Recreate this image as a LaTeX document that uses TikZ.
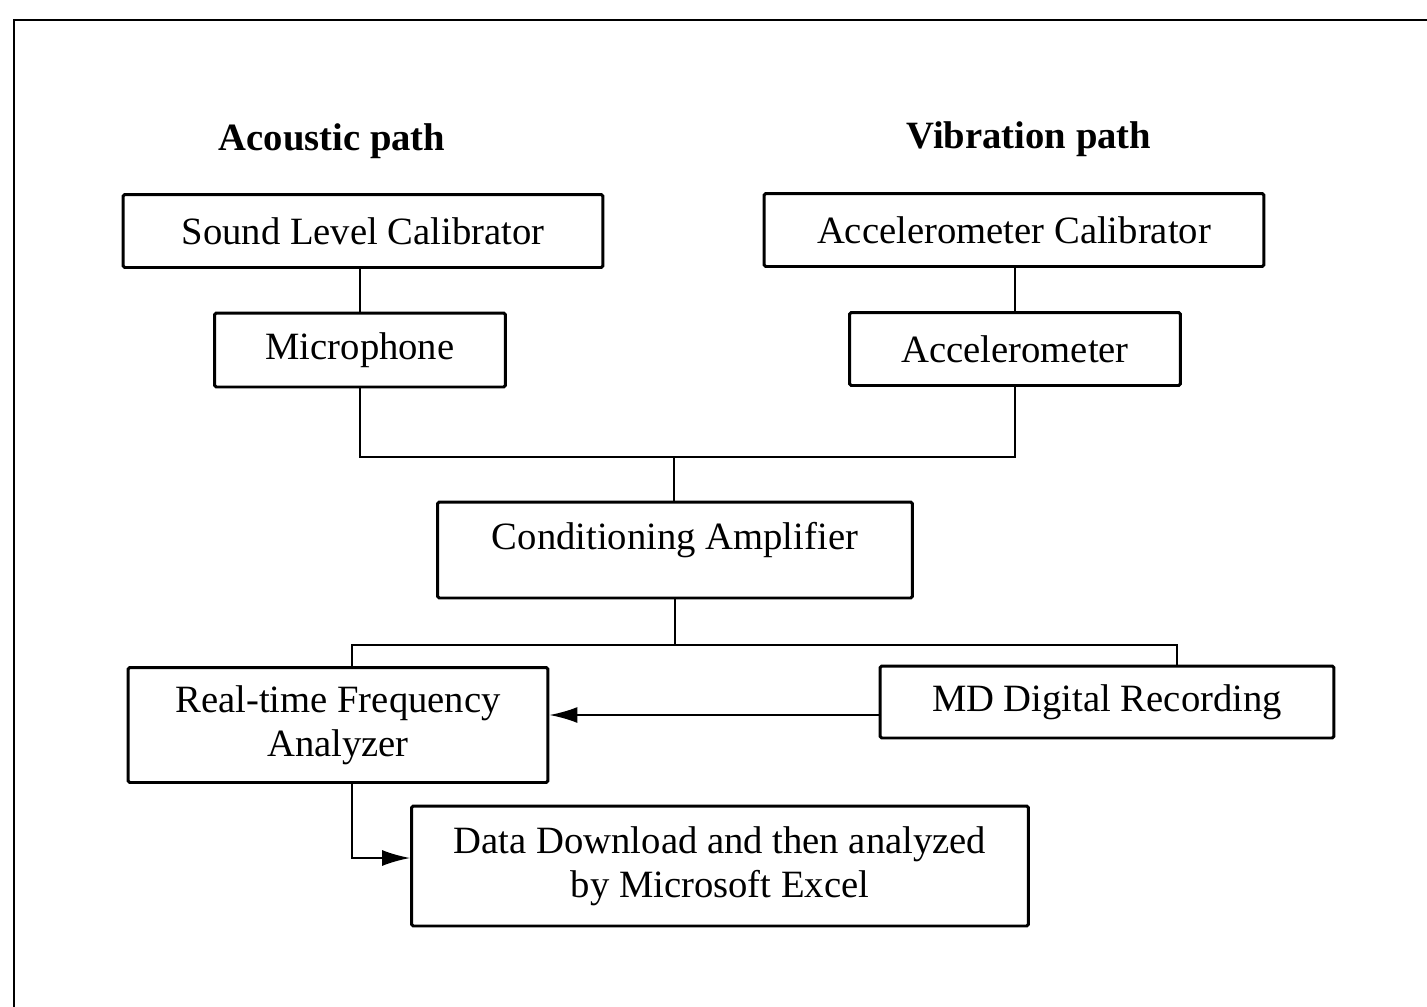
\documentclass[tikz,border=0pt]{standalone}
\usepackage{fontspec}
\setmainfont{Liberation Serif}
\usetikzlibrary{arrows.meta,calc}
\tikzset{box/.style={draw, line width=1.7pt, rounded corners=1pt, align=center, inner sep=2pt},
	title/.style={font=\fontsize{22}{25}\selectfont\bfseries},
	link/.style={line width=1.1pt},
	arr/.style={link, -{Latex[length=5.6mm,width=3.2mm]}}}

\begin{document}
\begin{tikzpicture}[x=0.02cm, y=-0.02cm, font=\fontsize{22}{25}\selectfont]
		\useasboundingbox (0,0) rectangle (1427,1007);
		\draw[line width=1.6pt] (14,1007) -- (14,20) -- (1427,20);
		
		\node[title] (acoustic) at (332,141) {Acoustic path};
		\node[title] (vibration) at (1029,139) {Vibration path};
		
		\node[box, minimum width=9.6cm, minimum height=1.46cm] (slc) at (363,231) {Sound Level Calibrator};
		\node[box, minimum width=10cm, minimum height=1.46cm] (acal) at (1014,230) {Accelerometer Calibrator};
		\node[box, minimum width=5.82cm, minimum height=1.48cm] (mic) at (360,350) {Microphone};
		\node[box, minimum width=6.62cm, minimum height=1.46cm] (acc) at (1015,349) {Accelerometer};
		\node[box, minimum width=9.5cm, minimum height=1.92cm, text depth=0.57cm] (amp) at (675,550) {Conditioning Amplifier};
		\node[box, minimum width=8.4cm, minimum height=2.3cm] (rta) at (338,725) {Real-time Frequency\\Analyzer};
		\node[box, minimum width=9.08cm, minimum height=1.44cm] (md) at (1107,702) {MD Digital Recording};
		\node[box, minimum width=12.34cm, minimum height=2.4cm] (data) at (720,866) {Data Download and then analyzed\\by Microsoft Excel};
		
		\coordinate (j1) at (674,457);
		\coordinate (p1) at (352,645);
		\coordinate (p2) at (1177,645);
		
		\draw[link] (mic.north) -- (mic.north |- slc.south);
		\draw[link] (acc.north) -- (acc.north |- acal.south);
		\draw[link] (mic.south) |- (j1) -| (acc.south);
		\draw[link] (j1) -- (j1 |- amp.north);
		\draw[link] (amp.south) -- (amp.south |- p1);
		\draw[link] (rta.north -| p1) -- (p1) -- (p2) -- (md.north -| p2);
		\draw[arr] ($(md.west)+(0,13)$) coordinate (m) -- (m -| rta.east);
		\draw[arr] (rta.south -| p1) |- ($(data.west)+(0,-8)$);
		\end{tikzpicture}
\end{document}
